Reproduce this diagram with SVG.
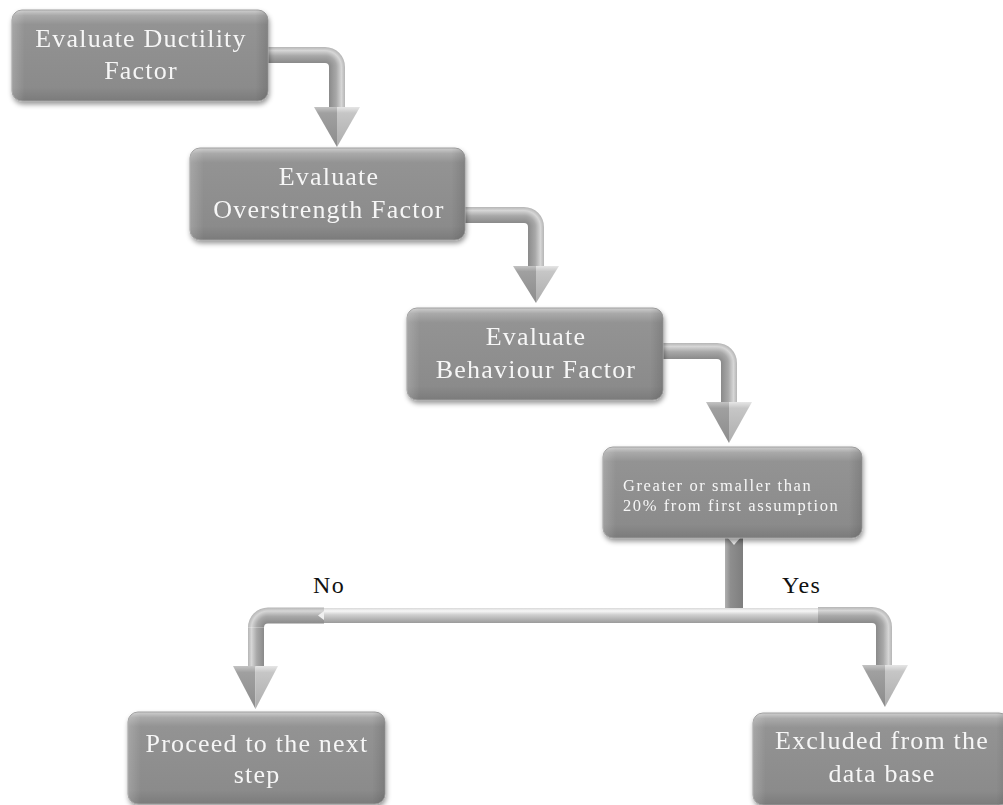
<svg xmlns="http://www.w3.org/2000/svg" width="1003" height="805" viewBox="0 0 1003 805">
  <defs>
    <!-- box body: grey with a bright bevel on top and darker bottom -->
    <linearGradient id="boxFill" x1="0" y1="0" x2="0" y2="1">
      <stop offset="0" stop-color="#cfcfcf"/>
      <stop offset="0.06" stop-color="#a9a9a9"/>
      <stop offset="0.16" stop-color="#939393"/>
      <stop offset="0.85" stop-color="#8b8b8b"/>
      <stop offset="1" stop-color="#7b7b7b"/>
    </linearGradient>
    <linearGradient id="boxSide" x1="0" y1="0" x2="1" y2="0">
      <stop offset="0" stop-color="#ffffff" stop-opacity="0.18"/>
      <stop offset="0.05" stop-color="#ffffff" stop-opacity="0"/>
      <stop offset="0.95" stop-color="#000000" stop-opacity="0"/>
      <stop offset="1" stop-color="#000000" stop-opacity="0.12"/>
    </linearGradient>
    <filter id="shadow" x="-10%" y="-15%" width="120%" height="140%">
      <feDropShadow dx="1" dy="3" stdDeviation="2.5" flood-color="#000" flood-opacity="0.4"/>
    </filter>

    <!-- pipe shading: inner side dark, outer side bright -->
    <linearGradient id="pipeH" x1="0" y1="1" x2="0" y2="0">
      <stop offset="0" stop-color="#8a8a8a"/>
      <stop offset="0.45" stop-color="#a8a8a8"/>
      <stop offset="0.78" stop-color="#d6d6d6"/>
      <stop offset="1" stop-color="#b5b5b5"/>
    </linearGradient>
    <linearGradient id="pipeVR" x1="0" y1="0" x2="1" y2="0">
      <stop offset="0" stop-color="#8a8a8a"/>
      <stop offset="0.45" stop-color="#a8a8a8"/>
      <stop offset="0.78" stop-color="#d6d6d6"/>
      <stop offset="1" stop-color="#b5b5b5"/>
    </linearGradient>
    <linearGradient id="pipeVL" x1="1" y1="0" x2="0" y2="0">
      <stop offset="0" stop-color="#8a8a8a"/>
      <stop offset="0.45" stop-color="#a8a8a8"/>
      <stop offset="0.78" stop-color="#d6d6d6"/>
      <stop offset="1" stop-color="#b5b5b5"/>
    </linearGradient>
    <radialGradient id="bendR" cx="0" cy="1" r="1" fx="0" fy="1">
      <stop offset="0.2" stop-color="#8a8a8a"/>
      <stop offset="0.56" stop-color="#a8a8a8"/>
      <stop offset="0.82" stop-color="#d6d6d6"/>
      <stop offset="1" stop-color="#b5b5b5"/>
    </radialGradient>
    <radialGradient id="bendL" cx="1" cy="1" r="1" fx="1" fy="1">
      <stop offset="0.2" stop-color="#8a8a8a"/>
      <stop offset="0.56" stop-color="#a8a8a8"/>
      <stop offset="0.82" stop-color="#d6d6d6"/>
      <stop offset="1" stop-color="#b5b5b5"/>
    </radialGradient>
    <linearGradient id="headL" x1="0" y1="0" x2="0" y2="1">
      <stop offset="0" stop-color="#c4c4c4"/>
      <stop offset="0.15" stop-color="#a0a0a0"/>
      <stop offset="1" stop-color="#8c8c8c"/>
    </linearGradient>
    <linearGradient id="headR" x1="0" y1="0" x2="0" y2="1">
      <stop offset="0" stop-color="#e6e6e6"/>
      <stop offset="0.15" stop-color="#c6c6c6"/>
      <stop offset="1" stop-color="#adadad"/>
    </linearGradient>
    <linearGradient id="bar" x1="0" y1="0" x2="0" y2="1">
      <stop offset="0" stop-color="#d8d8d8"/>
      <stop offset="0.2" stop-color="#f7f7f7"/>
      <stop offset="0.45" stop-color="#d0d0d0"/>
      <stop offset="1" stop-color="#9a9a9a"/>
    </linearGradient>
    <linearGradient id="stem" x1="0" y1="0" x2="1" y2="0">
      <stop offset="0" stop-color="#b0b0b0"/>
      <stop offset="0.3" stop-color="#8e8e8e"/>
      <stop offset="1" stop-color="#7e7e7e"/>
    </linearGradient>

    <style>
      .box { fill: url(#boxFill); stroke: #9e9e9e; stroke-width: 1; }
      .side { fill: url(#boxSide); }
      .label { font-family: "Liberation Serif", "Times New Roman", serif; fill: #f6f6f6; text-anchor: middle; }
      .big { font-size: 26px; letter-spacing: 1.2px; }
      .small { font-size: 16.5px; letter-spacing: 1.6px; text-anchor: start; }
      .branch { font-family: "Liberation Serif", "Times New Roman", serif; font-size: 24px; letter-spacing: 1.5px; fill: #111; }
      .ph { fill: url(#pipeH); }
      .pvr { fill: url(#pipeVR); }
      .pvl { fill: url(#pipeVL); }
      .br { fill: url(#bendR); }
      .bl { fill: url(#bendL); }
      .hl { fill: url(#headL); }
      .hr { fill: url(#headR); }
    </style>
  </defs>

  <rect width="1003" height="805" fill="#ffffff"/>

  <!-- connectors -->
  <g id="connectors">
    <!-- ductility -> overstrength -->
    <g id="c1">
      <rect class="ph" x="264" y="47" width="61" height="16"/>
      <path class="br" d="M325,47 A20,20 0 0 1 345,67 L329,67 A4,4 0 0 0 325,63 Z"/>
      <rect class="pvr" x="329" y="67" width="16" height="41"/>
      <polygon class="hl" points="314,107 337,107 337,147"/>
      <polygon class="hr" points="337,107 360,107 337,147"/>
    </g>
    <!-- overstrength -> behaviour -->
    <g id="c2">
      <rect class="ph" x="462" y="207" width="62" height="16"/>
      <path class="br" d="M524,207 A20,20 0 0 1 544,227 L528,227 A4,4 0 0 0 524,223 Z"/>
      <rect class="pvr" x="528" y="227" width="16" height="40"/>
      <polygon class="hl" points="513,266 536,266 536,303"/>
      <polygon class="hr" points="536,266 559,266 536,303"/>
    </g>
    <!-- behaviour -> check -->
    <g id="c3">
      <rect class="ph" x="660" y="343" width="57" height="16"/>
      <path class="br" d="M717,343 A20,20 0 0 1 737,363 L721,363 A4,4 0 0 0 717,359 Z"/>
      <rect class="pvr" x="721" y="363" width="16" height="40"/>
      <polygon class="hl" points="706,402 729,402 729,443"/>
      <polygon class="hr" points="729,402 752,402 729,443"/>
    </g>
    <!-- check -> split bar -->
    <g id="c4">
      <rect x="725" y="536" width="18" height="73" fill="url(#stem)"/>
      <polygon points="727,537 741,537 734,545" fill="#f2f2f2"/>
      <rect x="318" y="608" width="506" height="15" fill="url(#bar)"/>
    </g>
    <!-- No branch -->
    <g id="c5">
      <rect class="ph" x="268" y="607.5" width="56" height="16"/>
      <polygon points="324,611 324,620 318,615.5" fill="#f0f0f0"/>
      <path class="bl" d="M268,607.5 A20,20 0 0 0 248,627.5 L264,627.5 A4,4 0 0 1 268,623.5 Z"/>
      <rect class="pvl" x="248" y="627.5" width="16" height="39"/>
      <polygon class="hl" points="233,666 255.5,666 255.5,709"/>
      <polygon class="hr" points="255.5,666 278,666 255.5,709"/>
    </g>
    <!-- Yes branch -->
    <g id="c6">
      <rect class="ph" x="818" y="607" width="54" height="16"/>
      <path class="br" d="M872,607 A20,20 0 0 1 892,627 L876,627 A4,4 0 0 0 872,623 Z"/>
      <rect class="pvr" x="876" y="627" width="16" height="39"/>
      <polygon class="hl" points="862,665 885,665 885,707"/>
      <polygon class="hr" points="885,665 908,665 885,707"/>
    </g>
    <text class="branch" x="313" y="593">No</text>
    <text class="branch" x="782" y="593">Yes</text>
  </g>

  <!-- process boxes -->
  <g id="ductility" filter="url(#shadow)">
    <rect class="box" x="12" y="10" width="256" height="91" rx="10"/>
    <rect class="side" x="12" y="10" width="256" height="91" rx="10"/>
    <text class="label big" x="141" y="47">Evaluate Ductility</text>
    <text class="label big" x="141" y="79">Factor</text>
  </g>

  <g id="overstrength" filter="url(#shadow)">
    <rect class="box" x="190" y="148" width="275" height="92" rx="10"/>
    <rect class="side" x="190" y="148" width="275" height="92" rx="10"/>
    <text class="label big" x="329" y="185">Evaluate</text>
    <text class="label big" x="329" y="218">Overstrength Factor</text>
  </g>

  <g id="behaviour" filter="url(#shadow)">
    <rect class="box" x="407" y="308" width="256" height="92" rx="10"/>
    <rect class="side" x="407" y="308" width="256" height="92" rx="10"/>
    <text class="label big" x="536" y="345">Evaluate</text>
    <text class="label big" x="536" y="378">Behaviour Factor</text>
  </g>

  <g id="check" filter="url(#shadow)">
    <rect class="box" x="603" y="447" width="259" height="91" rx="10"/>
    <rect class="side" x="603" y="447" width="259" height="91" rx="10"/>
    <text class="label small" x="623" y="491">Greater or smaller than</text>
    <text class="label small" x="623" y="511">20% from first assumption</text>
  </g>

  <g id="proceed" filter="url(#shadow)">
    <rect class="box" x="128" y="712" width="257" height="92" rx="10"/>
    <rect class="side" x="128" y="712" width="257" height="92" rx="10"/>
    <text class="label big" x="257" y="752">Proceed to the next</text>
    <text class="label big" x="257" y="783">step</text>
  </g>

  <g id="excluded" filter="url(#shadow)">
    <rect class="box" x="753" y="713" width="256" height="92" rx="10"/>
    <rect class="side" x="753" y="713" width="256" height="92" rx="10"/>
    <text class="label big" x="882" y="749">Excluded from the</text>
    <text class="label big" x="882" y="782">data base</text>
  </g>
</svg>
